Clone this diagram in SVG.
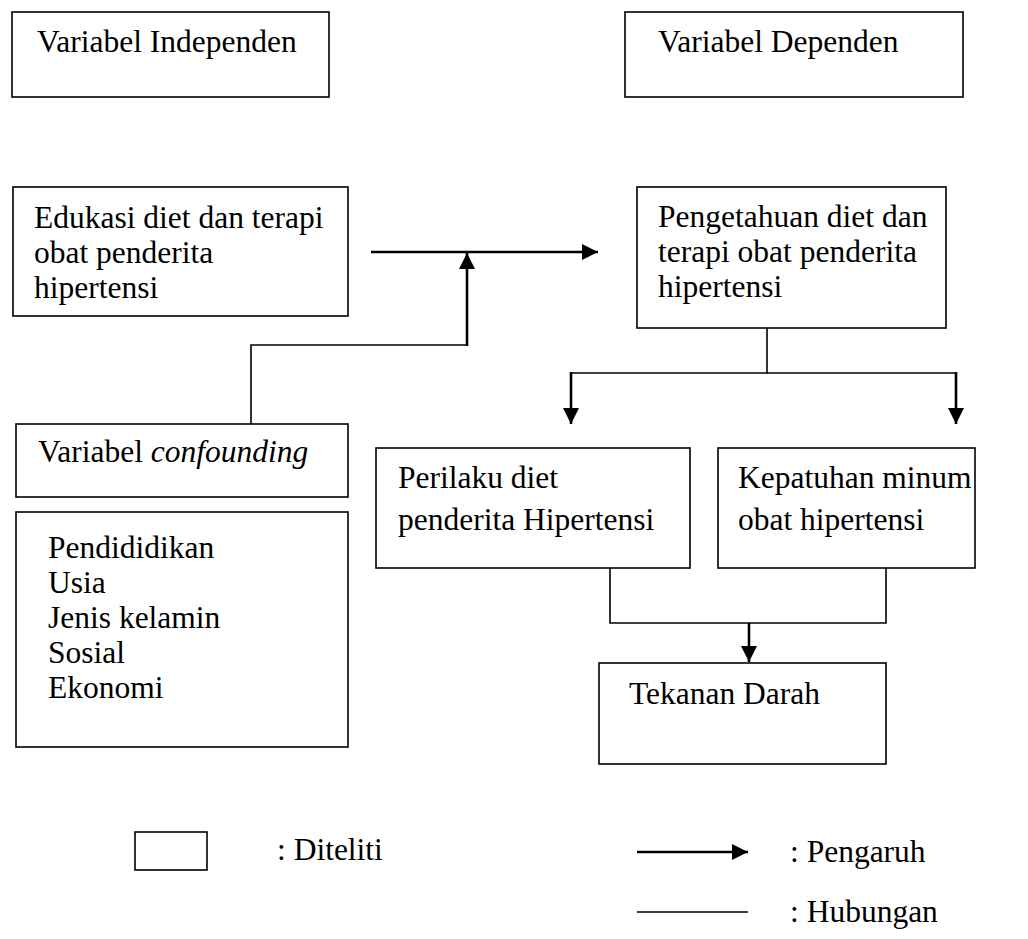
<svg xmlns="http://www.w3.org/2000/svg" width="1028" height="939" viewBox="0 0 1028 939">
<style>
.box{fill:#fff;stroke:#000;stroke-width:1.6}
.t{font-family:"Liberation Serif","Times New Roman",serif;font-size:31.5px;fill:#000}
.ln{fill:none;stroke:#000;stroke-width:1.6}
.ar{fill:none;stroke:#000;stroke-width:2.6}
</style>
<defs>
<marker id="ah" markerUnits="userSpaceOnUse" markerWidth="16" markerHeight="16" refX="16" refY="8" orient="auto" viewBox="0 0 16 16">
<path d="M0,0 L16,8 L0,16 z" fill="#000"/>
</marker>
</defs>
<rect width="1028" height="939" fill="#fff"/>
<g id="connectors">
<line class="ar" x1="371" y1="252" x2="598" y2="252" marker-end="url(#ah)"/>
<polyline class="ln" points="251,424 251,345 467,345"/>
<line class="ar" x1="467" y1="346" x2="467" y2="253" marker-end="url(#ah)"/>
<polyline class="ln" points="767,328 767,373 571,373"/>
<line class="ln" x1="767" y1="373" x2="956" y2="373"/>
<line class="ar" x1="571" y1="372" x2="571" y2="424" marker-end="url(#ah)"/>
<line class="ar" x1="956" y1="372" x2="956" y2="424" marker-end="url(#ah)"/>
<polyline class="ln" points="610,568 610,623 886,623 886,568"/>
<line class="ar" x1="749" y1="623" x2="749" y2="662" marker-end="url(#ah)"/>
</g>
<g id="n-var-independen">
<rect class="box" x="12" y="12" width="317" height="85"/>
<text class="t" x="37" y="52">Variabel Independen</text>
</g>
<g id="n-var-dependen">
<rect class="box" x="625" y="12" width="338" height="85"/>
<text class="t" x="658" y="52">Variabel Dependen</text>
</g>
<g id="n-edukasi">
<rect class="box" x="13" y="187" width="335" height="129"/>
<text class="t" x="34" y="228">Edukasi diet dan terapi</text>
<text class="t" x="34" y="263">obat penderita</text>
<text class="t" x="34" y="298">hipertensi</text>
</g>
<g id="n-pengetahuan">
<rect class="box" x="637" y="187" width="309" height="141"/>
<text class="t" x="658" y="227">Pengetahuan diet dan</text>
<text class="t" x="658" y="262">terapi obat penderita</text>
<text class="t" x="658" y="297">hipertensi</text>
</g>
<g id="n-confounding">
<rect class="box" x="16" y="424" width="332" height="73"/>
<text class="t" x="38" y="462">Variabel <tspan font-style="italic">confounding</tspan></text>
</g>
<g id="n-perilaku">
<rect class="box" x="376" y="448" width="314" height="120"/>
<text class="t" x="398" y="488">Perilaku diet</text>
<text class="t" x="398" y="530">penderita Hipertensi</text>
</g>
<g id="n-kepatuhan">
<rect class="box" x="718" y="448" width="257" height="120"/>
<text class="t" x="738" y="488">Kepatuhan minum</text>
<text class="t" x="738" y="530">obat hipertensi</text>
</g>
<g id="n-faktor">
<rect class="box" x="16" y="512" width="332" height="235"/>
<text class="t" x="48" y="558">Pendididikan</text>
<text class="t" x="48" y="593">Usia</text>
<text class="t" x="48" y="628">Jenis kelamin</text>
<text class="t" x="48" y="663">Sosial</text>
<text class="t" x="48" y="698">Ekonomi</text>
</g>
<g id="n-tekanan">
<rect class="box" x="599" y="663" width="287" height="101"/>
<text class="t" x="629" y="704">Tekanan Darah</text>
</g>
<g id="legend">
<rect class="box" x="135" y="832" width="72" height="38"/>
<text class="t" x="277" y="860">: Diteliti</text>
<line class="ar" x1="637" y1="852" x2="748" y2="852" marker-end="url(#ah)"/>
<text class="t" x="790" y="862">: Pengaruh</text>
<line class="ln" x1="637" y1="912" x2="748" y2="912"/>
<text class="t" x="790" y="922">: Hubungan</text>
</g>
</svg>
